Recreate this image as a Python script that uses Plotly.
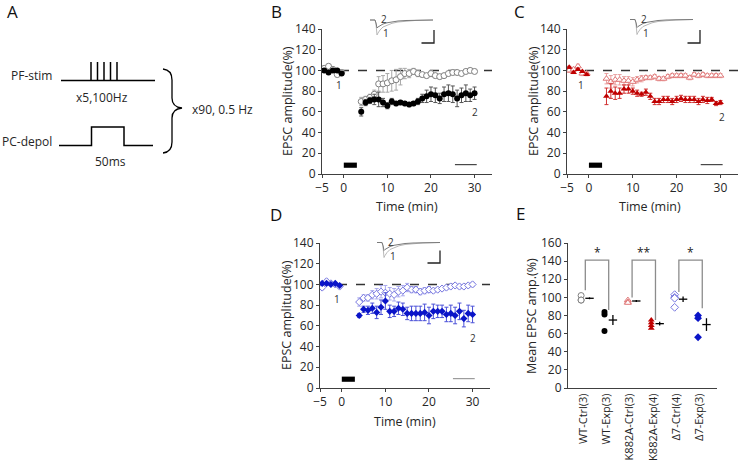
import plotly.graph_objects as go

# ---------------- data ----------------
t_pre = [-4.5, -3.5, -2.5, -1.5, -0.5]
t_post = list(range(4, 31))

# Panel B (WT)
b_ctrl_pre = [102, 104, 101, 96, 98]
b_exp_pre = [100, 98, 100, 100, 97]
b_ctrl_post = [70, 72, 74, 77, 87, 87, 88, 90, 91, 94, 97, 97, 99, 97, 96, 95, 97, 95, 94, 95, 97, 98, 98, 97, 99, 100, 99]
b_ctrl_err = [4, 3, 3, 4, 7, 8, 9, 10, 10, 8, 5, 4, 3, 3, 2, 2, 3, 2, 2, 2, 2, 2, 2, 2, 2, 2, 2]
b_exp_post = [60, 69, 71, 72, 72, 69, 66, 70, 68, 69, 68, 67, 68, 70, 73, 75, 77, 76, 73, 77, 78, 77, 73, 76, 78, 76, 78]
b_exp_err = [4, 3, 3, 5, 7, 4, 3, 3, 2, 2, 2, 2, 2, 3, 4, 6, 7, 7, 5, 7, 8, 8, 8, 7, 8, 6, 6]

# Panel C (K882A)
c_ctrl_pre = [100, 101, 104, 97, 97]
c_exp_pre = [103, 98, 101, 99, 96]
c_ctrl_post = [92, 89, 91, 91, 90, 90, 89, 91, 92, 93, 93, 94, 92, 92, 94, 95, 95, 95, 95, 93, 96, 95, 96, 95, 95, 95, 95]
c_ctrl_err = [5, 6, 5, 5, 4, 4, 4, 3, 3, 2, 2, 2, 2, 2, 2, 2, 2, 2, 2, 2, 2, 2, 2, 2, 2, 2, 2]
c_exp_post = [75, 80, 78, 78, 82, 82, 80, 78, 77, 79, 75, 70, 70, 72, 72, 70, 72, 73, 72, 72, 72, 70, 72, 71, 72, 68, 69]
c_exp_err = [8, 7, 6, 5, 4, 4, 3, 3, 2, 3, 3, 3, 3, 3, 3, 3, 3, 3, 3, 3, 3, 3, 3, 3, 2, 2, 2]

# Panel D (delta7)
d_ctrl_pre = [97, 103, 101, 100, 98]
d_exp_pre = [101, 101, 100, 101, 99]
d_ctrl_post = [83, 87, 87, 90, 91, 93, 92, 91, 90, 93, 94, 97, 95, 95, 93, 94, 95, 94, 95, 96, 97, 98, 99, 98, 98, 99, 100]
d_ctrl_err = [4, 3, 3, 4, 5, 6, 7, 6, 6, 5, 5, 4, 3, 3, 3, 3, 3, 2, 2, 2, 2, 2, 2, 2, 2, 2, 2]
d_exp_post = [70, 76, 75, 77, 73, 78, 84, 74, 74, 77, 76, 72, 72, 72, 72, 73, 70, 74, 74, 74, 71, 72, 70, 74, 67, 72, 71]
d_exp_err = [2, 3, 4, 5, 6, 7, 8, 6, 5, 6, 6, 6, 7, 7, 7, 8, 8, 7, 6, 6, 7, 8, 8, 8, 8, 8, 8]

stim_bar = [0, 3]          # conditioning period (min)
sample_window = [25.5, 30.5]

# Panel E
e_labels = ["WT-Ctrl(3)", "WT-Exp(3)", "K882A-Ctrl(3)", "K882A-Exp(4)", "Δ7-Ctrl(4)", "Δ7-Exp(3)"]
e_values = [[102, 97, 97], [84, 81, 63], [97, 95, 94], [75, 72, 69, 66], [103, 100, 99, 89], [80, 77, 56]]
e_means = [99, 75, 96, 71, 98, 70]
e_sems = [1, 5.5, 1, 2, 3, 7]
e_brackets = [(0, 1, 108, 86, "*"), (2, 3, 100, 75, "**"), (4, 5, 106, 88, "*")]

# EPSC sample trace template (pixel offsets)
epsc_dx = [0, 5, 6, 7, 8, 10, 13, 17, 22, 28, 36, 46, 63]
epsc1_dy = [0, 0, 4, 15, 13, 10, 7, 5, 3.3, 2, 1, 0.4, 0]
epsc2_dy = [0, 0, 3, 8, 7, 5.5, 4, 2.8, 1.8, 1, 0.5, 0.2, 0]

FONT = "Open Sans"
AX = "#404040"
TXT = "#262626"
TICK = 12

fig = go.Figure()

W, H = 740, 466
def dom_x(a, b):
    return [a / W, b / W]
def dom_y(top, bot):
    return [(H - bot) / H, (H - top) / H]

panels = [
    ("", dict(oc="#808080", fc="#000000", oe="#a8a8a8", fe="#555555", sym="circle", sz=6),
     b_ctrl_pre, b_exp_pre, b_ctrl_post, b_ctrl_err, b_exp_post, b_exp_err),
    ("2", dict(oc="#e07878", fc="#c00000", oe="#eaa0a0", fe="#d03030", sym="triangle-up", sz=6),
     c_ctrl_pre, c_exp_pre, c_ctrl_post, c_ctrl_err, c_exp_post, c_exp_err),
    ("3", dict(oc="#7878e0", fc="#0a14c8", oe="#a8a8ee", fe="#4a50d8", sym="diamond", sz=5.5),
     d_ctrl_pre, d_exp_pre, d_ctrl_post, d_ctrl_err, d_exp_post, d_exp_err),
]

for sfx, col, cpre, epre, cpost, cerr, epost, eerr in panels:
    xa, ya = "x" + sfx, "y" + sfx
    fig.add_trace(go.Scatter(
        x=t_pre + t_post, y=cpre + cpost, mode="markers", xaxis=xa, yaxis=ya,
        marker=dict(symbol=col["sym"], size=col["sz"], color="white", line=dict(color=col["oc"], width=1)),
        error_y=dict(type="data", array=[2] * len(t_pre) + cerr, color=col["oe"], thickness=1, width=2),
        showlegend=False))
    fig.add_trace(go.Scatter(
        x=t_pre + t_post, y=epre + epost, mode="markers", xaxis=xa, yaxis=ya,
        marker=dict(symbol=col["sym"], size=col["sz"], color=col["fc"], line=dict(width=0)),
        error_y=dict(type="data", array=[1] * len(t_pre) + eerr, color=col["fe"], thickness=1, width=2),
        showlegend=False))
    fig.add_shape(type="line", xref=xa, yref=ya, x0=-5, x1=34, y0=100, y1=100,
                  line=dict(color="#333333", width=1.5, dash="dash"), layer="below")
    fig.add_shape(type="rect", xref=xa, yref=ya, x0=stim_bar[0], x1=stim_bar[1], y0=6, y1=11,
                  fillcolor="black", line=dict(width=0))
    fig.add_shape(type="line", xref=xa, yref=ya, x0=sample_window[0], x1=sample_window[1], y0=9, y1=9,
                  line=dict(color="#888888" if sfx == "3" else "#222222", width=1))

one_two = [("", -1.1, 86, 30, 60), ("2", -1.8, 86, 30.3, 55), ("3", -1.1, 85.6, 30, 48.6)]
for sfx, x1, y1, x2, y2 in one_two:
    for xx, yy, tx in [(x1, y1, "1"), (x2, y2, "2")]:
        fig.add_annotation(x=xx, y=yy, xref="x" + sfx, yref="y" + sfx, text=tx, showarrow=False,
                           font=dict(family=FONT, size=10, color="#333333"))

# ---------------- Panel E ----------------
e_sty = [
    dict(symbol="circle", color="white", line=dict(color="#808080", width=1)),
    dict(symbol="circle", color="black", line=dict(width=0)),
    dict(symbol="triangle-up", color="white", line=dict(color="#e07878", width=1)),
    dict(symbol="triangle-up", color="#c00000", line=dict(width=0)),
    dict(symbol="diamond", color="white", line=dict(color="#7878e0", width=1)),
    dict(symbol="diamond", color="#0a14c8", line=dict(width=0)),
]
for i, vals in enumerate(e_values):
    fig.add_trace(go.Scatter(x=[i - 0.08] * len(vals), y=vals, mode="markers", xaxis="x4", yaxis="y4",
                             marker=dict(size=6, **e_sty[i]), showlegend=False))
    fig.add_trace(go.Scatter(x=[i + 0.28], y=[e_means[i]], mode="markers", xaxis="x4", yaxis="y4",
                             marker=dict(symbol="line-ew", size=6, line=dict(color="black", width=1.3)),
                             error_y=dict(type="data", array=[e_sems[i]], color="black", thickness=1.3, width=0),
                             showlegend=False))
for a, b, ya_, yb_, star in e_brackets:
    fig.add_shape(type="path", xref="x4", yref="y4",
                  path=f"M {a + 0.1} {ya_} L {a + 0.1} 141 L {b + 0.1} 141 L {b + 0.1} {yb_}",
                  line=dict(color="#8c8c8c", width=1.3))
    fig.add_annotation(x=(a + b) / 2 + 0.1, y=150, xref="x4", yref="y4", text=star, showarrow=False,
                       font=dict(family=FONT, size=12, color="#222222"))

# ---------------- overlay (pixel) axis: panel A, insets, titles ----------------
def ov_line(xs, ys, color="black", width=1.5):
    fig.add_trace(go.Scatter(x=xs, y=ys, mode="lines", xaxis="x5", yaxis="y5",
                             line=dict(color=color, width=width), showlegend=False, hoverinfo="skip"))

ov_line([61, 155], [80.5, 80.5])
for sx in [91, 97.5, 104, 110.5, 117]:
    ov_line([sx, sx], [80.5, 62])
ov_line([59, 91.5, 91.5, 124, 124, 153], [145.5, 145.5, 127, 127, 145.5, 145.5])
fig.add_shape(type="path", xref="x5", yref="y5",
              path="M 163 69 Q 172 70 172 80 L 172 98 Q 172 107 182 108 Q 172 109 172 118 L 172 142 Q 172 152 163 153",
              line=dict(color="black", width=1.3))
for tx, x, y, anc in [("PF-stim", 9, 75, "left"), ("x5,100Hz", 102, 97, "center"),
                      ("PC-depol", 0, 141.5, "left"), ("50ms", 110, 161, "center"),
                      ("x90, 0.5 Hz", 190, 109, "left")]:
    fig.add_annotation(x=x, y=y, xref="x5", yref="y5", text=tx, showarrow=False, xanchor=anc,
                       font=dict(family=FONT, size=12, color=TXT))
for tx, x, y in [("A", 12, 11), ("B", 276, 11), ("C", 519, 11), ("D", 276, 214), ("E", 520, 213)]:
    fig.add_annotation(x=x, y=y, xref="x5", yref="y5", text=tx, showarrow=False,
                       font=dict(family=FONT, size=17, color="#111111"))

# axis titles
for tx, x, y, ang in [("Time (min)", 407, 206, 0), ("Time (min)", 650, 206, 0), ("Time (min)", 405, 421, 0),
                      ("EPSC amplitude(%)", 287, 101, -90), ("EPSC amplitude(%)", 533, 101, -90),
                      ("EPSC amplitude(%)", 286, 315, -90), ("Mean EPSC amp.(%)", 531, 316, -90)]:
    fig.add_annotation(x=x, y=y, xref="x5", yref="y5", text=tx, showarrow=False, textangle=ang,
                       borderpad=0, font=dict(family=FONT, size=12.5, color=TXT))

insets = [(370, 20, 433, 434, 30, 43), (630, 19.5, 693, 700, 30, 43), (377, 242.5, 440, 440, 250.5, 263)]
for x0, y0, xend, sbx, sbt, sbb in insets:
    ov_line([x0 + d for d in epsc_dx] + [xend], [y0 + d for d in epsc1_dy] + [y0], color="#b8b8b8", width=1)
    ov_line([x0 + d for d in epsc_dx] + [xend], [y0 + d for d in epsc2_dy] + [y0], color="#7a7a7a", width=1)
    ov_line([sbx - 12.5, sbx, sbx], [sbb, sbb, sbt], color="#222222", width=1.3)
    fig.add_annotation(x=x0 + 14, y=y0 - 1, xref="x5", yref="y5", text="2", showarrow=False,
                       font=dict(family=FONT, size=10, color="#333333"))
    fig.add_annotation(x=x0 + 16, y=y0 + 13, xref="x5", yref="y5", text="1", showarrow=False,
                       font=dict(family=FONT, size=10, color="#333333"))

# ---------------- layout ----------------
def time_axes(dx, dyy):
    xa = dict(domain=dom_x(*dx), range=[-5, 34], tickvals=[-5, 0, 10, 20, 30], showline=True, linecolor=AX,
              linewidth=1, ticks="outside", ticklen=3, tickcolor=AX, showgrid=False, zeroline=False,
              automargin=False, tickfont=dict(family=FONT, size=TICK, color=TXT))
    ya = dict(domain=dom_y(*dyy), range=[0, 140], tickvals=list(range(0, 141, 20)), showline=True, linecolor=AX,
              linewidth=1, ticks="outside", ticklen=3, tickcolor=AX, showgrid=False, zeroline=False,
              automargin=False, tickfont=dict(family=FONT, size=TICK, color=TXT))
    return xa, ya

xa1, ya1 = time_axes((322, 492), (29, 174))
xa2, ya2 = time_axes((567, 738), (29, 174))
xa3, ya3 = time_axes((320, 490), (243, 388))
ya1["anchor"] = "x"; xa1["anchor"] = "y"
xa2["anchor"] = "y2"; ya2["anchor"] = "x2"
xa3["anchor"] = "y3"; ya3["anchor"] = "x3"

xa4 = dict(domain=dom_x(568, 717), range=[-0.64, 5.73], anchor="y4", tickvals=list(range(6)), ticktext=e_labels,
           tickangle=-90, showline=True, linecolor=AX, linewidth=1, ticks="", showgrid=False, zeroline=False,
           automargin=False, tickfont=dict(family=FONT, size=11, color=TXT))
ya4 = dict(domain=dom_y(243, 388), range=[0, 160], anchor="x4", tickvals=list(range(0, 161, 20)), showline=True,
           linecolor=AX, linewidth=1, ticks="outside", ticklen=3, tickcolor=AX, showgrid=False, zeroline=False,
           automargin=False, tickfont=dict(family=FONT, size=TICK, color=TXT))

fig.update_layout(
    width=W, height=H, margin=dict(l=0, r=0, t=0, b=0, autoexpand=False),
    paper_bgcolor="white", plot_bgcolor="rgba(0,0,0,0)",
    xaxis=xa1, yaxis=ya1, xaxis2=xa2, yaxis2=ya2, xaxis3=xa3, yaxis3=ya3, xaxis4=xa4, yaxis4=ya4,
    xaxis5=dict(domain=[0, 1], range=[0, W], visible=False, anchor="y5", fixedrange=True, automargin=False),
    yaxis5=dict(domain=[0, 1], range=[H, 0], visible=False, anchor="x5", fixedrange=True, automargin=False),
    showlegend=False,
)

fig.write_html("out.html", config={"displayModeBar": False},
               post_script="document.body.style.margin='0';document.body.style.padding='0';document.body.style.overflow='hidden';")
